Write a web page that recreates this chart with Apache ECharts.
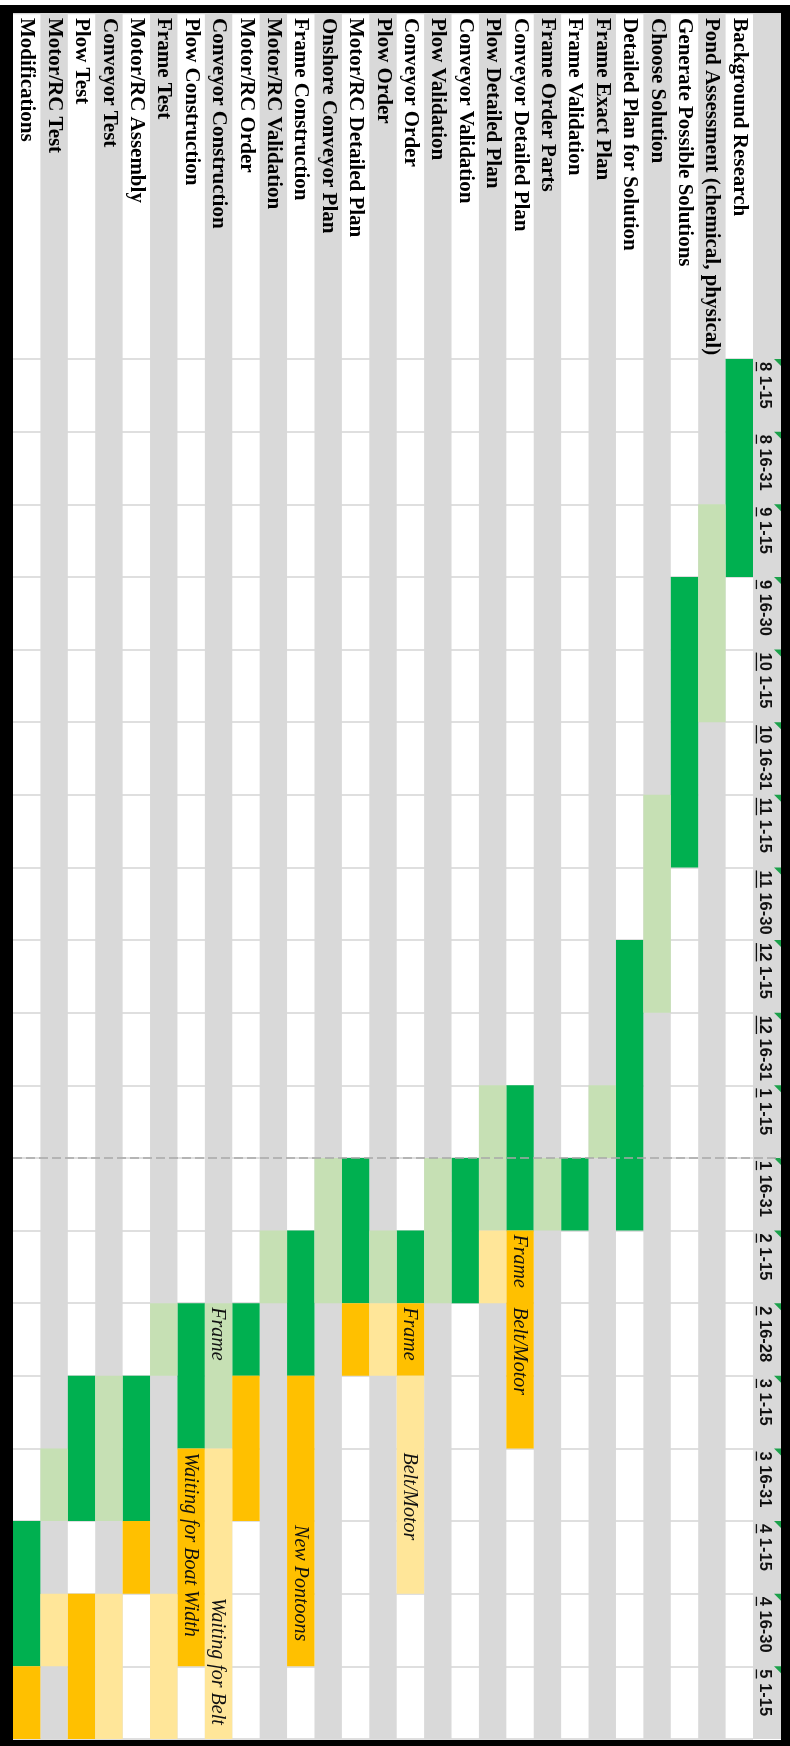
<!DOCTYPE html>
<html>
<head>
<meta charset="utf-8">
<script src="https://cdn.jsdelivr.net/npm/echarts@6/dist/echarts.min.js"></script>
<style>
  html, body { margin: 0; padding: 0; background: #fff; }
  #chart { width: 790px; height: 1746px; }
</style>
</head>
<body>
<div id="chart"></div>
<script>
// ---- project tasks (columns, first task on the right) ----
const tasks = [
  'Background Research',
  'Pond Assessment (chemical, physical)',
  'Generate Possible Solutions',
  'Choose Solution',
  'Detailed Plan for Solution',
  'Frame Exact Plan',
  'Frame Validation',
  'Frame Order Parts',
  'Conveyor Detailed Plan',
  'Plow Detailed Plan',
  'Conveyor Validation',
  'Plow Validation',
  'Conveyor Order',
  'Plow Order',
  'Motor/RC Detailed Plan',
  'Onshore Conveyor Plan',
  'Frame Construction',
  'Motor/RC Validation',
  'Motor/RC Order',
  'Conveyor Construction',
  'Plow Construction',
  'Frame Test',
  'Motor/RC Assembly',
  'Conveyor Test',
  'Plow Test',
  'Motor/RC Test',
  'Modifications'
];

// ---- half-month periods (rows, top to bottom) ----
const periods = [
  '8 1-15', '8 16-31', '9 1-15', '9 16-30', '10 1-15', '10 16-31',
  '11 1-15', '11 16-30', '12 1-15', '12 16-31', '1 1-15', '1 16-31',
  '2 1-15', '2 16-28', '3 1-15', '3 16-31', '4 1-15', '4 16-30', '5 1-15'
];

// ---- spans: [task, first period, last period] ----
const workGreen = [
  ['Background Research', '8 1-15', '9 1-15'],
  ['Generate Possible Solutions', '9 16-30', '11 1-15'],
  ['Detailed Plan for Solution', '12 1-15', '1 16-31'],
  ['Frame Validation', '1 16-31', '1 16-31'],
  ['Conveyor Detailed Plan', '1 1-15', '1 16-31'],
  ['Conveyor Validation', '1 16-31', '2 1-15'],
  ['Conveyor Order', '2 1-15', '2 1-15'],
  ['Motor/RC Detailed Plan', '1 16-31', '2 1-15'],
  ['Frame Construction', '2 1-15', '2 16-28'],
  ['Motor/RC Order', '2 16-28', '2 16-28'],
  ['Plow Construction', '2 16-28', '3 1-15'],
  ['Motor/RC Assembly', '3 1-15', '3 16-31'],
  ['Plow Test', '3 1-15', '3 16-31'],
  ['Modifications', '4 1-15', '4 16-30']
];
const workPaleGreen = [
  ['Pond Assessment (chemical, physical)', '9 1-15', '10 1-15'],
  ['Choose Solution', '11 1-15', '12 1-15'],
  ['Frame Exact Plan', '1 1-15', '1 1-15'],
  ['Frame Order Parts', '1 16-31', '1 16-31'],
  ['Plow Detailed Plan', '1 1-15', '1 16-31'],
  ['Plow Validation', '1 16-31', '2 1-15'],
  ['Plow Order', '2 1-15', '2 1-15'],
  ['Onshore Conveyor Plan', '1 16-31', '2 1-15'],
  ['Motor/RC Validation', '2 1-15', '2 1-15'],
  ['Conveyor Construction', '2 16-28', '3 1-15'],
  ['Frame Test', '2 16-28', '2 16-28'],
  ['Conveyor Test', '3 1-15', '3 16-31'],
  ['Motor/RC Test', '3 16-31', '3 16-31']
];
const slipAmber = [
  ['Conveyor Detailed Plan', '2 1-15', '3 1-15'],
  ['Conveyor Order', '2 16-28', '2 16-28'],
  ['Motor/RC Detailed Plan', '2 16-28', '2 16-28'],
  ['Frame Construction', '3 1-15', '4 16-30'],
  ['Motor/RC Order', '3 1-15', '3 16-31'],
  ['Plow Construction', '3 16-31', '4 16-30'],
  ['Motor/RC Assembly', '4 1-15', '4 1-15'],
  ['Plow Test', '4 16-30', '5 1-15'],
  ['Modifications', '5 1-15', '5 1-15']
];
const slipPaleAmber = [
  ['Plow Detailed Plan', '2 1-15', '2 1-15'],
  ['Plow Order', '2 16-28', '2 16-28'],
  ['Conveyor Order', '3 1-15', '4 1-15'],
  ['Conveyor Construction', '3 16-31', '5 1-15'],
  ['Frame Test', '4 16-30', '5 1-15'],
  ['Conveyor Test', '4 16-30', '5 1-15'],
  ['Motor/RC Test', '4 16-30', '4 16-30']
];

// ---- cell notes: [task, period, text] ----
const notes = [
  ['Conveyor Detailed Plan', '2 1-15', 'Frame'],
  ['Conveyor Detailed Plan', '2 16-28', 'Belt/Motor'],
  ['Conveyor Order', '2 16-28', 'Frame'],
  ['Conveyor Order', '3 16-31', 'Belt/Motor'],
  ['Conveyor Construction', '2 16-28', 'Frame'],
  ['Conveyor Construction', '4 16-30', 'Waiting for Belt'],
  ['Plow Construction', '3 16-31', 'Waiting for Boat Width'],
  ['Frame Construction', '4 1-15', 'New Pontoons']
];

// current period marker (dashed line at its start)
const todayPeriod = '1 16-31';

// ---- styling ----
const GRAY = '#D9D9D9';
const COLORS = {
  workGreen: '#00B050',
  workPaleGreen: '#C6E0B4',
  slipAmber: '#FFC000',
  slipPaleAmber: '#FFE699'
};
const SHEET = { left: 13, top: 13, right: 781, bottom: 1739 };
const HEADER_W = SHEET.right - 753;
const LABEL_FONT = 'bold 21px "Liberation Serif", "Times New Roman", serif';
const PERIOD_FONT = 'bold 16.5px "Liberation Sans", Arial, sans-serif';
const NOTE_FONT = 'italic 20px "Liberation Serif", "Times New Roman", serif';

const measureCtx = document.createElement('canvas').getContext('2d');
function textWidth(s, font) {
  measureCtx.font = font;
  return measureCtx.measureText(s).width;
}

const taskIdx = (t) => tasks.indexOf(t);
const periodIdx = (p) => periods.indexOf(p);

function spanSeries(name, spans, color) {
  return {
    name,
    type: 'custom',
    clip: false,
    silent: true,
    z: 3,
    encode: { x: 0, y: 1 },
    data: spans.map(([t, a, b]) => [taskIdx(t), periodIdx(a), periodIdx(b)]),
    renderItem(params, api) {
      const t = api.value(0);
      const p0 = api.coord([t, api.value(1)]);
      const p1 = api.coord([t, api.value(2)]);
      const bw = api.size([1, 0])[0];
      const bh = api.size([0, 1])[1];
      return {
        type: 'rect',
        shape: { x: p0[0] - bw / 2, y: p0[1] - bh / 2, width: bw, height: p1[1] - p0[1] + bh },
        style: { fill: color }
      };
    }
  };
}

const chart = echarts.init(document.getElementById('chart'));

const option = {
  animation: false,
  backgroundColor: '#ffffff',
  grid: {
    left: SHEET.left,
    top: 359,
    right: 790 - (SHEET.right - HEADER_W),
    bottom: 1746 - SHEET.bottom
  },
  xAxis: {
    type: 'category',
    data: tasks,
    inverse: true,
    show: false
  },
  yAxis: {
    type: 'category',
    data: periods,
    inverse: true,
    axisLine: { show: false },
    axisTick: { show: false },
    axisLabel: { show: false },
    splitLine: { show: true, interval: 0, lineStyle: { color: '#D4D4D4', width: 1.5 } }
  },
  graphic: [
    // period header column
    { type: 'rect', z: 0, silent: true,
      shape: { x: SHEET.right - HEADER_W, y: SHEET.top, width: HEADER_W, height: SHEET.bottom - SHEET.top },
      style: { fill: GRAY } },
    // sheet top edge
    { type: 'line', z: 0, silent: true,
      shape: { x1: SHEET.left, y1: SHEET.top + 0.5, x2: SHEET.right, y2: SHEET.top + 0.5 },
      style: { stroke: '#D4D4D4', lineWidth: 1.5 } },
    // black frame
    { type: 'rect', z: 100, silent: true, shape: { x: 0, y: 5, width: 790, height: SHEET.top - 5 }, style: { fill: '#000' } },
    { type: 'rect', z: 100, silent: true, shape: { x: 0, y: 5, width: SHEET.left, height: 1741 }, style: { fill: '#000' } },
    { type: 'rect', z: 100, silent: true, shape: { x: SHEET.right, y: 5, width: 790 - SHEET.right, height: 1741 }, style: { fill: '#000' } },
    { type: 'rect', z: 100, silent: true, shape: { x: 0, y: SHEET.bottom + 1, width: 790, height: 1746 - SHEET.bottom - 1 }, style: { fill: '#000' } }
  ],
  series: [
    // alternating column bands and task names
    {
      name: 'columns',
      type: 'custom',
      clip: false,
      silent: true,
      z: 2,
      encode: { x: 0, y: 1 },
      data: tasks.map((t, i) => [i, 0]),
      renderItem(params, api) {
        const i = api.value(0);
        const cx = api.coord([i, 0])[0];
        const bw = api.size([1, 0])[0];
        const cs = params.coordSys;
        const children = [];
        if (i % 2 === 1) {
          children.push({
            type: 'rect',
            shape: { x: cx - bw / 2, y: SHEET.top, width: bw, height: cs.y + cs.height - SHEET.top },
            style: { fill: GRAY }
          });
        }
        children.push({
          type: 'text',
          x: cx,
          y: SHEET.top + 5,
          rotation: -Math.PI / 2,
          style: { text: tasks[i], font: LABEL_FONT, fill: '#000', align: 'left', verticalAlign: 'middle' }
        });
        return { type: 'group', children };
      }
    },
    spanSeries('workGreen', workGreen, COLORS.workGreen),
    spanSeries('workPaleGreen', workPaleGreen, COLORS.workPaleGreen),
    spanSeries('slipAmber', slipAmber, COLORS.slipAmber),
    spanSeries('slipPaleAmber', slipPaleAmber, COLORS.slipPaleAmber),
    // notes written in cells
    {
      name: 'notes',
      type: 'custom',
      clip: false,
      silent: true,
      z: 4,
      encode: { x: 0, y: 1 },
      data: notes.map(([t, p]) => [taskIdx(t), periodIdx(p)]),
      renderItem(params, api) {
        const pt = api.coord([api.value(0), api.value(1)]);
        const bh = api.size([0, 1])[1];
        return {
          type: 'text',
          x: pt[0] - 1,
          y: pt[1] - bh / 2 + 4,
          rotation: -Math.PI / 2,
          style: { text: notes[params.dataIndex][2], font: NOTE_FONT, fill: '#111', align: 'left', verticalAlign: 'middle' }
        };
      }
    },
    // period header labels
    {
      name: 'periods',
      type: 'custom',
      clip: false,
      silent: true,
      z: 4,
      encode: { x: 0, y: 1 },
      data: periods.map((p, i) => [0, i]),
      renderItem(params, api) {
        const i = api.value(1);
        const cy = api.coord([0, i])[1];
        const bh = api.size([0, 1])[1];
        const cs = params.coordSys;
        const colL = cs.x + cs.width;
        const top = cy - bh / 2;
        const month = periods[i].split(' ')[0];
        const mw = textWidth(month, PERIOD_FONT);
        return {
          type: 'group',
          children: [
            {
              type: 'text',
              x: colL + 11.5,
              y: top + 3,
              rotation: -Math.PI / 2,
              style: { text: periods[i], font: PERIOD_FONT, fill: '#111', align: 'left', verticalAlign: 'middle' }
            },
            {
              type: 'line',
              shape: { x1: colL + 3.4, y1: top + 3, x2: colL + 3.4, y2: top + 3 + mw },
              style: { stroke: '#111', lineWidth: 1.3 }
            },
            {
              type: 'polygon',
              shape: { points: [[colL + HEADER_W - 7, top], [colL + HEADER_W, top], [colL + HEADER_W, top + 7]] },
              style: { fill: '#1BA04A' }
            }
          ]
        };
      }
    },
    // today marker
    {
      name: 'today',
      type: 'custom',
      clip: false,
      silent: true,
      z: 6,
      encode: { x: 0, y: 1 },
      data: [[0, periodIdx(todayPeriod)]],
      renderItem(params, api) {
        const cy = api.coord([0, api.value(1)])[1];
        const bh = api.size([0, 1])[1];
        const y = cy - bh / 2;
        return {
          type: 'line',
          shape: { x1: SHEET.left, y1: y, x2: SHEET.right, y2: y },
          style: { stroke: '#A8A8A8', lineWidth: 1.5, lineDash: [9, 4] }
        };
      }
    }
  ]
};

chart.setOption(option);
</script>
</body>
</html>
